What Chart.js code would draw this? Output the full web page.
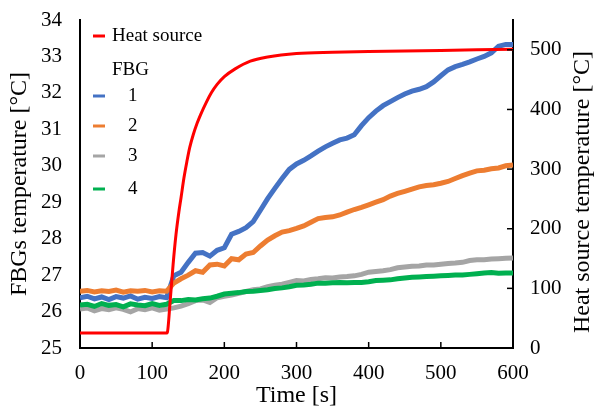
<!DOCTYPE html>
<html>
<head>
<meta charset="utf-8">
<script src="https://cdn.jsdelivr.net/npm/chart.js@4"></script>
<style>
  body { margin: 0; background: #fff; }
  #wrap { width: 599px; height: 409px; }
</style>
</head>
<body>
<div id="wrap"><canvas id="chart"></canvas></div>
<script>
// heat source (right axis, °C)
const heatTimes = [0, 120, 121, 125, 129, 133, 137, 140, 144, 148, 152, 157, 162, 167, 175, 182, 190, 200, 215, 236, 260, 300, 350, 400, 450, 500, 550, 600]
const heatTemps = [25, 25, 26, 80, 140, 190, 228, 252, 285, 312, 336, 358, 376, 391, 412, 428, 442, 455, 468, 481, 488, 494, 496, 497, 498, 499, 500, 501]

// FBG readings (left axis, °C), one every 10 s
const times = [0, 10, 20, 30, 40, 50, 60, 70, 80, 90, 100, 110, 120, 130, 140, 150, 160, 170, 180, 190, 200,
  210, 220, 230, 240, 250, 260, 270, 280, 290, 300, 310, 320, 330, 340, 350, 360, 370, 380, 390, 400,
  410, 420, 430, 440, 450, 460, 470, 480, 490, 500, 510, 520, 530, 540, 550, 560, 570, 580, 590, 600]
const fbg1 = [26.38, 26.42, 26.35, 26.40, 26.33, 26.41, 26.37, 26.43, 26.34, 26.39, 26.36, 26.41, 26.38, 26.98, 27.08, 27.35, 27.60, 27.62, 27.52, 27.68, 27.75,
  28.12, 28.20, 28.30, 28.47, 28.78, 29.10, 29.38, 29.65, 29.90, 30.05, 30.15, 30.27, 30.40, 30.52, 30.62, 30.71, 30.76, 30.85, 31.10, 31.32,
  31.50, 31.65, 31.76, 31.87, 31.97, 32.05, 32.10, 32.17, 32.30, 32.47, 32.63, 32.72, 32.78, 32.85, 32.93, 33.00, 33.10, 33.28, 33.33, 33.33]
const fbg2 = [26.56, 26.58, 26.54, 26.57, 26.55, 26.59, 26.53, 26.57, 26.56, 26.58, 26.54, 26.57, 26.56, 26.78, 26.90, 27.00, 27.12, 27.08, 27.28, 27.30, 27.25,
  27.45, 27.42, 27.58, 27.62, 27.80, 27.96, 28.08, 28.18, 28.22, 28.28, 28.35, 28.45, 28.55, 28.58, 28.60, 28.65, 28.73, 28.80, 28.86, 28.93,
  29.00, 29.07, 29.17, 29.24, 29.30, 29.36, 29.42, 29.46, 29.48, 29.52, 29.57, 29.65, 29.73, 29.80, 29.86, 29.88, 29.92, 29.94, 30.00, 30.02]
const fbg3 = [26.07, 26.10, 26.02, 26.08, 26.05, 26.10, 26.06, 25.99, 26.08, 26.05, 26.10, 26.04, 26.07, 26.10, 26.15, 26.22, 26.30, 26.32, 26.25, 26.38, 26.42,
  26.45, 26.50, 26.55, 26.60, 26.62, 26.68, 26.72, 26.75, 26.80, 26.85, 26.84, 26.88, 26.90, 26.93, 26.92, 26.95, 26.96, 26.98, 27.02, 27.08,
  27.10, 27.12, 27.15, 27.20, 27.22, 27.24, 27.25, 27.28, 27.28, 27.30, 27.32, 27.33, 27.35, 27.40, 27.42, 27.42, 27.44, 27.45, 27.46, 27.47]
const fbg4 = [26.18, 26.20, 26.14, 26.22, 26.17, 26.19, 26.13, 26.21, 26.18, 26.16, 26.22, 26.17, 26.20, 26.30, 26.30, 26.33, 26.32, 26.35, 26.37, 26.42, 26.48,
  26.50, 26.52, 26.55, 26.56, 26.58, 26.60, 26.63, 26.65, 26.68, 26.72, 26.73, 26.75, 26.78, 26.78, 26.79, 26.80, 26.79, 26.80, 26.80, 26.82,
  26.85, 26.86, 26.87, 26.90, 26.92, 26.94, 26.95, 26.96, 26.97, 26.98, 26.99, 27.00, 27.00, 27.02, 27.04, 27.06, 27.07, 27.05, 27.06, 27.06]

const fbgLabels = ['1', '2', '3', '4']
const fbgColors = ['#4472C4', '#ED7D31', '#A5A5A5', '#00B050']
const fbgSeries = [fbg1, fbg2, fbg3, fbg4]
const heatColor = '#FF0000'
const rightTitle = 'Heat source temperature [°C]'

const serif = "'Liberation Serif', 'Times New Roman', serif"

function pts(xs, ys){
    return xs.map((x, i) => ({x: x, y: ys[i]}))
}

var datasets = [{
    label: 'Heat source',
    data: pts(heatTimes, heatTemps),
    yAxisID: 'y2',
    borderColor: heatColor,
    borderWidth: 3,
    pointRadius: 0,
    cubicInterpolationMode: 'monotone',
    order: 0
}]
for(let i in fbgSeries){
    datasets.push({
        label: fbgLabels[i],
        data: pts(times, fbgSeries[i]),
        yAxisID: 'y',
        borderColor: fbgColors[i],
        borderWidth: 5,
        pointRadius: 0,
        tension: 0,
        order: 4 - i
    })
}

// tick marks pointing into the plot, legend inside the plot, right title read bottom-up
const extras = {
    id: 'extras',
    afterDraw(chart){
        const ctx = chart.ctx
        const a = chart.chartArea
        ctx.save()
        ctx.strokeStyle = '#000'
        ctx.lineWidth = 1.5
        const xs = chart.scales.x
        xs.ticks.forEach(t => {
            const px = xs.getPixelForValue(t.value)
            ctx.beginPath(); ctx.moveTo(px, a.bottom); ctx.lineTo(px, a.bottom - 6); ctx.stroke()
        })
        const y2 = chart.scales.y2
        y2.ticks.forEach(t => {
            const py = y2.getPixelForValue(t.value)
            ctx.beginPath(); ctx.moveTo(a.right, py); ctx.lineTo(a.right - 6, py); ctx.stroke()
        })

        ctx.font = '19px ' + serif
        ctx.fillStyle = '#000'
        ctx.textBaseline = 'middle'
        ctx.textAlign = 'left'
        ctx.lineWidth = 3
        const rows = [
            {text: 'Heat source', color: heatColor, y: 16, tx: 32},
            {text: 'FBG', color: null, y: 50, tx: 32},
        ]
        const rowY = [76, 106, 136, 169]
        fbgLabels.forEach((l, i) => rows.push({text: l, color: fbgColors[i], y: rowY[i], tx: 48}))
        rows.forEach(r => {
            const y = a.top + r.y
            if(r.color){
                ctx.strokeStyle = r.color
                ctx.beginPath(); ctx.moveTo(a.left + 13, y); ctx.lineTo(a.left + 25, y); ctx.stroke()
            }
            ctx.fillText(r.text, a.left + r.tx, y)
        })

        ctx.font = '24px ' + serif
        ctx.textAlign = 'center'
        ctx.translate(583, (a.top + a.bottom) / 2 + 8)
        ctx.rotate(-Math.PI / 2)
        ctx.fillText(rightTitle, 0, 0)
        ctx.restore()
    }
}

const ctx = document.getElementById('chart').getContext('2d')
const myChart = new Chart(ctx, {
    type: 'line',
    data: { datasets: datasets },
    plugins: [extras],
    options: {
        responsive: true,
        maintainAspectRatio: false,
        animation: false,
        layout: { padding: { top: 20, left: 0, right: 0, bottom: 0 } },
        plugins: { legend: { display: false }, tooltip: { enabled: false } },
        scales: {
            x: {
                type: 'linear',
                min: 0, max: 600,
                grid: { display: false, drawTicks: false },
                border: { display: true, color: '#000', width: 2 },
                ticks: { stepSize: 100, padding: 13, color: '#000', font: { family: serif, size: 21 } },
                title: { display: true, text: 'Time [s]', color: '#000', padding: { top: 0, bottom: 1 }, font: { family: serif, size: 24, lineHeight: 1 } },
                afterFit(s){ s.height = 61; s.paddingLeft = 0; s.paddingRight = 0 }
            },
            y: {
                position: 'left',
                min: 25, max: 34,
                grid: { display: false, drawTicks: false },
                border: { display: true, color: '#000', width: 2 },
                ticks: { stepSize: 1, padding: 18, color: '#000', font: { family: serif, size: 21 } },
                title: { display: true, text: 'FBGs temperature [°C]', color: '#000', padding: { top: 8, bottom: 0 }, font: { family: serif, size: 24, lineHeight: 1 } },
                afterFit(s){ s.width = 80; s.paddingTop = 0; s.paddingBottom = 0 }
            },
            y2: {
                position: 'right',
                min: 0, max: 550,
                grid: { display: false, drawTicks: false },
                border: { display: true, color: '#000', width: 2 },
                ticks: { stepSize: 100, includeBounds: false, padding: 17, color: '#000', font: { family: serif, size: 21 } },
                title: { display: false },
                afterFit(s){ s.width = 86; s.paddingTop = 0; s.paddingBottom = 0 }
            }
        }
    }
})
</script>
</body>
</html>
